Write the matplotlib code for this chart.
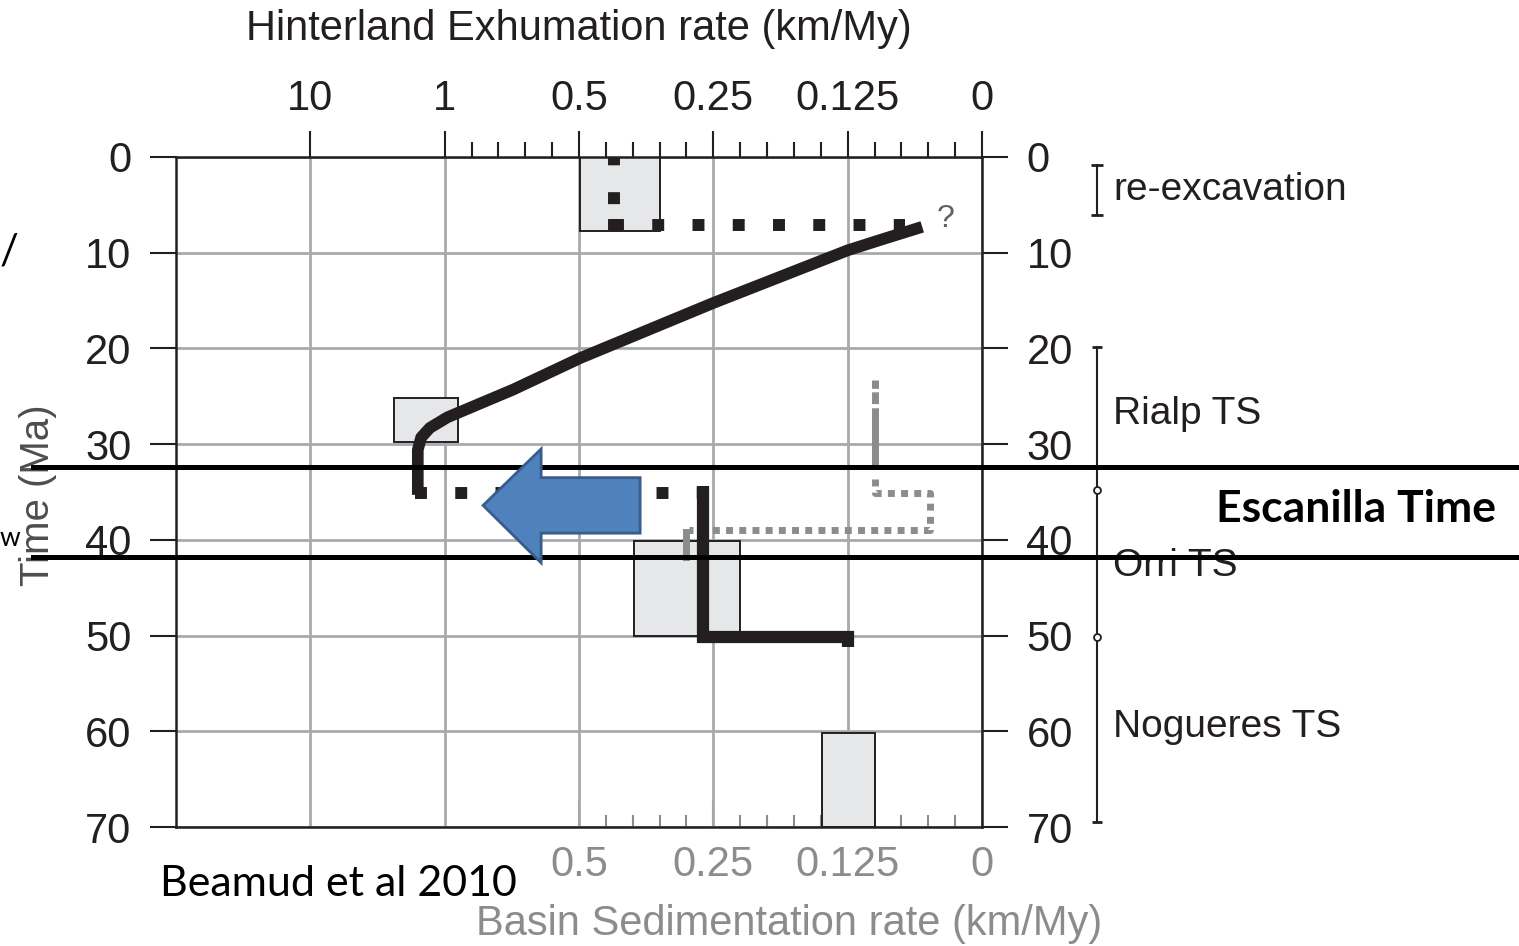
import numpy as np
import matplotlib
matplotlib.use("Agg")
import matplotlib.pyplot as plt
from matplotlib.patches import Polygon
from matplotlib.lines import Line2D
from matplotlib.transforms import blended_transform_factory

plt.rcParams['font.family'] = ['Liberation Sans', 'DejaVu Sans']

# x axis is an index scale: 0 = left edge, 1..6 = labelled rates
top_ticks = [1, 2, 3, 4, 5, 6]
top_labels = ['10', '1', '0.5', '0.25', '0.125', '0']
bottom_ticks = [3, 4, 5, 6]
bottom_labels = ['0.5', '0.25', '0.125', '0']
time_ticks = [0, 10, 20, 30, 40, 50, 60, 70]

# grey boxes (x0, x1, t0, t1)
box_u0 = [3.01, 1.62, 3.41, 4.81]
box_u1 = [3.60, 2.10, 4.20, 5.20]
box_t0 = [0.0, 25.2, 40.1, 60.2]
box_t1 = [7.7, 29.8, 50.0, 70.0]

# thick black exhumation curve
curve_u = [5.555, 5.28, 5.00, 4.00, 3.01, 2.51, 2.02, 1.89, 1.825, 1.80, 1.80]
curve_t = [7.3, 8.5, 9.75, 15.25, 21.0, 24.3, 27.2, 28.3, 29.3, 30.6, 35.3]

# thick black L (sedimentation)
sed_u = [3.92, 3.92, 5.00, 5.00]
sed_t = [34.4, 50.1, 50.1, 51.2]

# black dotted paths
dot1v_u = [3.26, 3.26]
dot1v_t = [7.7, 0.0]
dot1h_u = [3.246, 5.43]
dot1h_t = [7.1, 7.1]
dot2_u = [1.78, 3.92]
dot2_t = [35.1, 35.1]

# grey paths
grey_solid_u = [5.20, 5.20]
grey_solid_t = [23.3, 32.2]
grey_dot_u = [5.20, 5.20, 5.61, 5.61, 3.82]
grey_dot_t = [33.6, 35.1, 35.1, 39.0, 39.0]
grey_stub_u = [3.80, 3.80]
grey_stub_t = [39.2, 41.8]

# blue arrow outline
arrow_u = [2.286, 2.718, 2.718, 3.455, 3.455, 2.718, 2.718]
arrow_t = [36.4, 30.5, 33.5, 33.5, 39.3, 39.3, 42.4]

# escanilla band
band_t = [32.4, 41.8]

# right-hand time scale
units = ['re-excavation', 'Rialp TS', 'Orri TS', 'Nogueres TS']
unit_t = [3.5, 26.8, 42.7, 59.6]
reexc_span = [0.8, 6.1]
ts_span = [19.9, 69.5]
ts_bounds = [34.8, 50.1]

W, H = 1519, 946
fx = lambda x: x / W
fy = lambda y: 1 - y / H

dark = '#231f20'
gridc = '#a7a9ac'
greytxt = '#8c8c8c'
FS = 30

fig = plt.figure(figsize=(W / 100, H / 100), dpi=100)
ax = fig.add_axes([fx(176), fy(827), 806 / W, 670 / H])
ax.set_xlim(0, 6)
ax.set_ylim(70, 0)

for s in ax.spines.values():
    s.set_color(dark)
    s.set_linewidth(1.8)

ax.xaxis.tick_top()
ax.set_xticks(top_ticks)
ax.set_xticklabels(top_labels)
ax.set_xticks(np.arange(2, 6, 0.2), minor=True)
ax.tick_params(axis='x', which='major', direction='out', length=19, width=1.5,
               color=dark, labelsize=FS, labelcolor=dark, pad=8)
ax.tick_params(axis='x', which='minor', direction='out', length=10.5, width=1.5,
               color=dark)
ax.set_yticks(time_ticks)
ax.tick_params(axis='y', left=True, right=True, labelleft=True, labelright=True,
               direction='out', length=19, width=1.5, color=dark,
               labelsize=FS, labelcolor=dark, pad=13)

ax.grid(True, color=gridc, lw=2)
ax.set_axisbelow(True)

axb = ax.secondary_xaxis('bottom')
axb.set_xticks(bottom_ticks)
axb.set_xticklabels(bottom_labels)
axb.set_xticks(np.arange(3.2, 6, 0.2), minor=True)
axb.tick_params(axis='x', which='major', direction='in', length=19, width=1.5,
                color=greytxt, labelsize=FS, labelcolor=greytxt, pad=13)
axb.tick_params(axis='x', which='minor', direction='in', length=9, width=1.5,
                color=greytxt)
axb.spines['bottom'].set_visible(False)

ax.bar(box_u0, np.array(box_t1) - np.array(box_t0),
       width=np.array(box_u1) - np.array(box_u0), bottom=box_t0, align='edge',
       color='#e6e7e8', edgecolor=dark, lw=1.4, zorder=1)

ax.plot(curve_u, curve_t, color=dark, lw=8.4, solid_joinstyle='round',
        solid_capstyle='butt', zorder=4)
ax.plot(sed_u, sed_t, color=dark, lw=8.8, solid_joinstyle='miter',
        solid_capstyle='butt', zorder=4)

ln, = ax.plot(dot1v_u, dot1v_t, color=dark, lw=8.6, dash_capstyle='butt', zorder=3)
ln.set_dashes([1, 1.25, 1, 2.25])
for uu, tt in [(dot1h_u, dot1h_t), (dot2_u, dot2_t)]:
    ln, = ax.plot(uu, tt, color=dark, lw=8.6, dash_capstyle='butt', zorder=3)
    ln.set_dashes([1, 2.37])

ax.plot(grey_solid_u, grey_solid_t, color='#8a8c8e', lw=5,
        linestyle=(0, (1.2, 0.5, 1.7, 0.6, 40, 1)), dash_capstyle='butt', zorder=3)
ln, = ax.plot(grey_dot_u, grey_dot_t, color='#8a8c8e', lw=5,
              dash_capstyle='butt', zorder=3)
ln.set_dashes([1, 0.9])
ax.plot(grey_stub_u, grey_stub_t, color='#8a8c8e', lw=5, zorder=3)

ax.text(5.73, 6.5, '?', fontsize=23, color='#606060', ha='center', va='center')

# escanilla band lines across whole figure
btr = blended_transform_factory(fig.transFigure, ax.transData)
for bt in band_t:
    fig.add_artist(Line2D([fx(33), 1.0], [bt, bt], transform=btr, color='black',
                          lw=3.6, zorder=4))

fig.add_artist(Polygon(np.column_stack([arrow_u, arrow_t]), closed=True,
                       transform=ax.transData, facecolor='#4f81bd',
                       edgecolor='#385d8a', lw=2, zorder=5))

# right time scale
ax3 = fig.add_axes([fx(1085), fy(827), 434 / W, 670 / H])
ax3.set_xlim(0, 1)
ax3.set_ylim(70, 0)
ax3.axis('off')
tsx = (1097 - 1085) / 434
ax3.plot([tsx, tsx], reexc_span, color=dark, lw=1.5, marker='_', ms=9, mew=2)
ax3.plot([tsx, tsx], ts_span, color=dark, lw=1.5, marker='_', ms=7, mew=2)
ax3.plot([tsx] * len(ts_bounds), ts_bounds, 'o', color=dark, mfc='white',
         ms=5, mew=1.3)
for name, t in zip(units, unit_t):
    ax3.text(tsx + 0.037, t, name, fontsize=28, color=dark, ha='left', va='center')

fig.text(fx(579), fy(29), 'Hinterland Exhumation rate (km/My)', fontsize=FS,
         color=dark, ha='center', va='center')
fig.text(fx(789), fy(924), 'Basin Sedimentation rate (km/My)', fontsize=FS,
         color=greytxt, ha='center', va='center')
fig.text(fx(38), fy(495), 'Time (Ma)', fontsize=29, color='#4d4d4d',
         rotation=90, ha='center', va='center')

fig.text(fx(1356), fy(509), 'Escanilla Time', fontsize=32, fontweight='bold',
         family=['Lato', 'DejaVu Sans'], ha='center', va='center', zorder=6)
fig.text(fx(160), fy(884), 'Beamud et al 2010', fontsize=31,
         family=['Lato', 'DejaVu Sans'], ha='left', va='center')
fig.text(fx(9), fy(252), '/', fontsize=30, family=['Lato', 'DejaVu Sans'],
         ha='center', va='center')
fig.text(fx(0), fy(538), 'w', fontsize=19, family=['Lato', 'DejaVu Sans'],
         ha='left', va='center')

fig.savefig('out.png', dpi=100)
